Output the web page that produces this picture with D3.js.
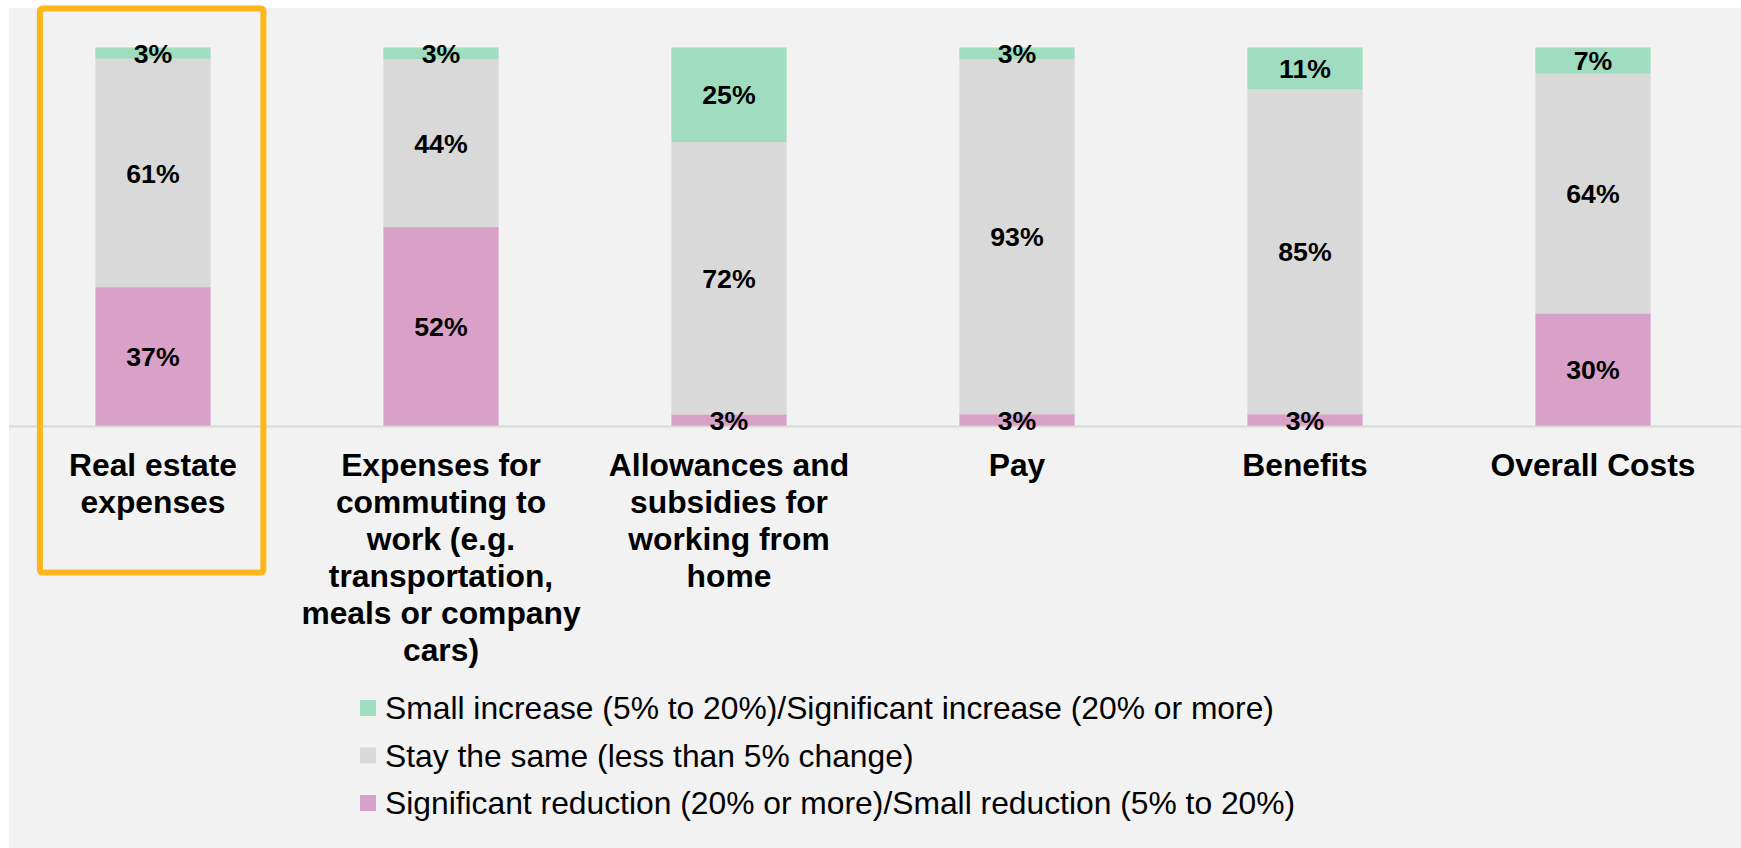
<!DOCTYPE html>
<html>
<head>
<meta charset="utf-8">
<script src="https://cdn.jsdelivr.net/npm/d3@7/dist/d3.min.js"></script>
<style>
  html, body { margin: 0; padding: 0; background: #ffffff; }
  svg { display: block; }
  text { font-family: "Liberation Sans", Arial, sans-serif; fill: #000; }
</style>
</head>
<body>
<svg id="chart" width="1741" height="848"></svg>
<script>
// ---- Data ----
const categories = [
  "Real estate expenses",
  "Expenses for commuting to work (e.g. transportation, meals or company cars)",
  "Allowances and subsidies for working from home",
  "Pay",
  "Benefits",
  "Overall Costs"
];
const categoryLines = [
  ["Real estate", "expenses"],
  ["Expenses for", "commuting to", "work (e.g.", "transportation,", "meals or company", "cars)"],
  ["Allowances and", "subsidies for", "working from", "home"],
  ["Pay"],
  ["Benefits"],
  ["Overall Costs"]
];
const reductionValues = [37, 52, 3, 3, 3, 30];
const sameValues      = [61, 44, 72, 93, 85, 64];
const increaseValues  = [3, 3, 25, 3, 11, 7];
const seriesNames = [
  "Small increase (5% to 20%)/Significant increase (20% or more)",
  "Stay the same (less than 5% change)",
  "Significant reduction (20% or more)/Small reduction (5% to 20%)"
];
const highlightedCategory = "Real estate expenses";

// ---- Styles ----
const colors = { increase: "#a0dcc0", same: "#d9d9d9", reduction: "#d9a0c8" };

const svg = d3.select("#chart");
const W = 1741, H = 848;

// background panel
svg.append("rect").attr("x", 9).attr("y", 8).attr("width", W - 9).attr("height", H - 8).attr("fill", "#f2f2f2");

const x = d3.scaleBand().domain(categories).range([9, 1737]).paddingInner(0.6).paddingOuter(0.3);
const y = d3.scaleLinear().domain([0, 1]).range([425.7, 47.5]);

const rows = categories.map((c, i) => {
  const total = reductionValues[i] + sameValues[i] + increaseValues[i];
  return { category: c, reduction: reductionValues[i] / total, same: sameValues[i] / total, increase: increaseValues[i] / total,
           raw: { reduction: reductionValues[i], same: sameValues[i], increase: increaseValues[i] } };
});
const keys = ["reduction", "same", "increase"];
const stacked = d3.stack().keys(keys)(rows);

// baseline
svg.append("line").attr("x1", 9).attr("x2", W).attr("y1", 426.5).attr("y2", 426.5)
  .attr("stroke", "#d9d9d9").attr("stroke-width", 2);

const layers = svg.selectAll("g.layer").data(stacked).join("g").attr("class", "layer")
  .attr("fill", d => colors[d.key]);
layers.selectAll("rect").data(d => d).join("rect")
  .attr("x", d => x(d.data.category))
  .attr("width", x.bandwidth())
  .attr("y", d => y(d[1]))
  .attr("height", d => y(d[0]) - y(d[1]));

// value labels
stacked.forEach(layer => {
  svg.append("g").selectAll("text").data(layer).join("text")
    .attr("x", d => x(d.data.category) + x.bandwidth() / 2)
    .attr("y", d => (y(d[0]) + y(d[1])) / 2)
    .attr("dy", "0.36em")
    .attr("text-anchor", "middle")
    .attr("font-size", "26.7px")
    .attr("font-weight", "bold")
    .text(d => d.data.raw[layer.key] + "%");
});

// category labels
const catG = svg.append("g");
categories.forEach((c, i) => {
  const t = catG.append("text")
    .attr("text-anchor", "middle")
    .attr("font-size", "31.8px")
    .attr("font-weight", "bold")
    .attr("y", 476);
  categoryLines[i].forEach((line, j) => {
    t.append("tspan").attr("x", x(c) + x.bandwidth() / 2).attr("y", 476 + j * 36.9).text(line);
  });
});

// highlight box
const hc = x(highlightedCategory) + x.bandwidth() / 2;
svg.append("rect")
  .attr("x", hc - 113.1)
  .attr("y", 8.5)
  .attr("width", 223.5)
  .attr("height", 564)
  .attr("rx", 2.5)
  .attr("fill", "none")
  .attr("stroke", "#fdb71a")
  .attr("stroke-width", 6);

// legend
const legendKeys = ["increase", "same", "reduction"];
const lg = svg.append("g");
legendKeys.forEach((k, i) => {
  const cy = 708 + i * 47.5;
  lg.append("rect").attr("x", 360).attr("y", cy - 8).attr("width", 16).attr("height", 16).attr("fill", colors[k]);
  lg.append("text").attr("x", 385).attr("y", cy).attr("dy", "0.35em")
    .attr("font-size", "31.8px").text(seriesNames[i]);
});
</script>
</body>
</html>
